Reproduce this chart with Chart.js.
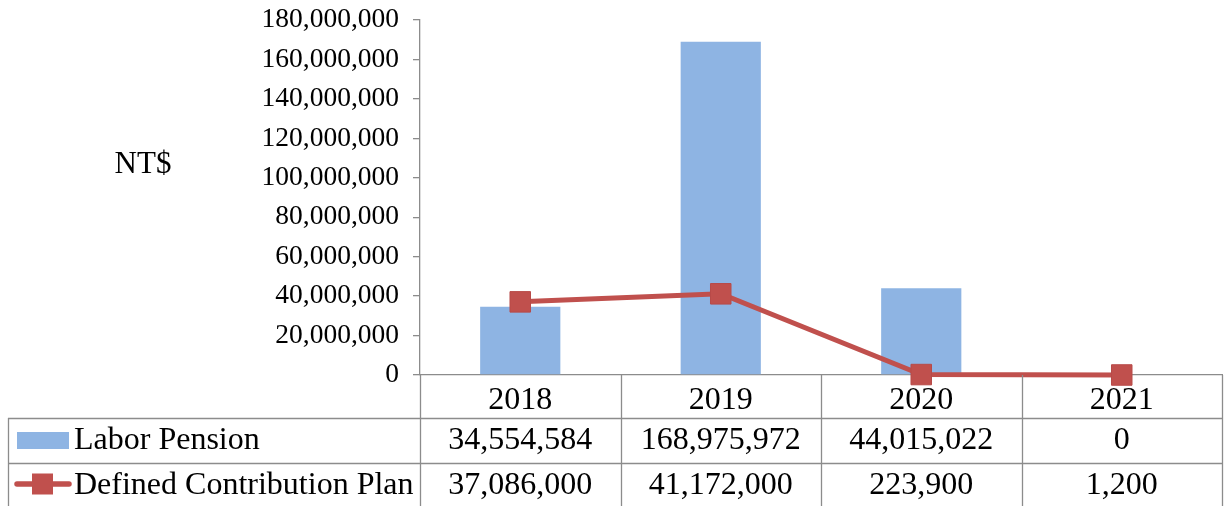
<!DOCTYPE html>
<html>
<head>
<meta charset="utf-8">
<script src="https://cdn.jsdelivr.net/npm/chart.js@4/dist/chart.umd.min.js"></script>
<style>
  html, body { margin: 0; padding: 0; background: #ffffff; }
  #wrap { width: 1229px; height: 506px; }
</style>
</head>
<body>
<div id="wrap"><canvas id="c" width="1229" height="506"></canvas></div>
<script>
const categories = ['2018', '2019', '2020', '2021'];
const laborPension = [34554584, 168975972, 44015022, 0];
const definedContribution = [37086000, 41172000, 223900, 1200];
const seriesNames = ['Labor Pension', 'Defined Contribution Plan'];
const yAxisTitle = 'NT$';
const yMin = 0, yMax = 180000000, yStep = 20000000;

const FONT = "'Liberation Serif', 'Times New Roman', serif";
const BAR_COLOR = '#8EB4E3';
const LINE_COLOR = '#C0504D';
const GRID = '#8c8c8c';

const fmt = v => v.toLocaleString('en-US');

const tablePlugin = {
  id: 'dataTable',
  afterDraw(chart) {
    const ctx = chart.ctx;
    const ca = chart.chartArea;
    const xs = chart.scales.x;
    const n = categories.length;
    const cw = (ca.right - ca.left) / n;
    const tableLeft = 8;
    const rowTop = [ca.bottom, ca.bottom + 43, ca.bottom + 88];
    const baselines = [ca.bottom + 34, ca.bottom + 74, ca.bottom + 119];
    const bottom = chart.height + 2;
    ctx.save();
    ctx.strokeStyle = GRID;
    ctx.lineWidth = 1.3;
    ctx.beginPath();
    for (let i = 0; i <= n; i++) {
      const x = Math.round(ca.left + i * cw) + 0.5;
      ctx.moveTo(x, ca.bottom);
      ctx.lineTo(x, bottom);
    }
    ctx.moveTo(tableLeft + 0.5, rowTop[1]);
    ctx.lineTo(tableLeft + 0.5, bottom);
    for (let r = 1; r < 3; r++) {
      const y = Math.round(rowTop[r]) + 0.5;
      ctx.moveTo(tableLeft, y);
      ctx.lineTo(ca.right, y);
    }
    ctx.stroke();

    ctx.fillStyle = '#000';
    ctx.textBaseline = 'alphabetic';
    ctx.textAlign = 'center';
    ctx.font = '32px ' + FONT;
    const rows = [categories, laborPension.map(fmt), definedContribution.map(fmt)];
    for (let r = 0; r < 3; r++) {
      for (let i = 0; i < n; i++) {
        const xc = xs.getPixelForValue(i);
        ctx.fillText(rows[r][i], xc, baselines[r]);
      }
    }
    ctx.textAlign = 'left';
    ctx.fillStyle = BAR_COLOR;
    ctx.fillRect(17, 432, 52, 17);
    ctx.fillStyle = '#000';
    ctx.fillText(seriesNames[0], 74, baselines[1]);
    const y2 = 484;
    ctx.strokeStyle = LINE_COLOR;
    ctx.lineWidth = 5.5;
    ctx.lineCap = 'round';
    ctx.beginPath();
    ctx.moveTo(17, y2);
    ctx.lineTo(69, y2);
    ctx.stroke();
    ctx.fillStyle = LINE_COLOR;
    ctx.fillRect(32, y2 - 10.5, 21, 21);
    ctx.fillStyle = '#000';
    ctx.fillText(seriesNames[1], 74, baselines[2]);

    ctx.textAlign = 'center';
    ctx.textBaseline = 'middle';
    ctx.font = '31px ' + FONT;
    ctx.fillText(yAxisTitle, 143, 165);
    ctx.restore();
  }
};

new Chart(document.getElementById('c'), {
  type: 'bar',
  data: {
    labels: categories,
    datasets: [
      {
        type: 'line',
        label: seriesNames[1],
        data: definedContribution,
        borderColor: LINE_COLOR,
        backgroundColor: LINE_COLOR,
        borderWidth: 5,
        pointStyle: 'rect',
        pointRadius: 14.5,
        pointBorderWidth: 1,
        pointBackgroundColor: LINE_COLOR,
        pointBorderColor: '#B84A48',
        tension: 0,
        clip: false,
        order: 0
      },
      {
        type: 'bar',
        label: seriesNames[0],
        data: laborPension,
        backgroundColor: BAR_COLOR,
        borderWidth: 0,
        categoryPercentage: 1,
        barPercentage: 0.4,
        order: 1
      }
    ]
  },
  options: {
    responsive: false,
    animation: false,
    layout: { autoPadding: false, padding: { top: 20, right: 7, left: 0, bottom: 0 } },
    plugins: { legend: { display: false }, tooltip: { enabled: false } },
    scales: {
      x: {
        offset: true,
        grid: { display: false },
        border: { display: true, color: GRID, width: 1.3 },
        ticks: { display: false },
        afterFit(scale) { scale.height = 131; scale.paddingLeft = 0; scale.paddingRight = 0; }
      },
      y: {
        min: yMin,
        max: yMax,
        ticks: {
          stepSize: yStep,
          color: '#000',
          font: { family: FONT, size: 27.5 },
          padding: 14,
          callback: v => fmt(v)
        },
        grid: { drawOnChartArea: false, drawTicks: true, tickLength: 7, color: GRID, lineWidth: 1.3 },
        border: { display: true, color: GRID, width: 1.3 },
        afterFit(scale) { scale.width = 420; scale.paddingTop = 0; scale.paddingBottom = 0; }
      }
    }
  },
  plugins: [tablePlugin]
});
</script>
</body>
</html>
